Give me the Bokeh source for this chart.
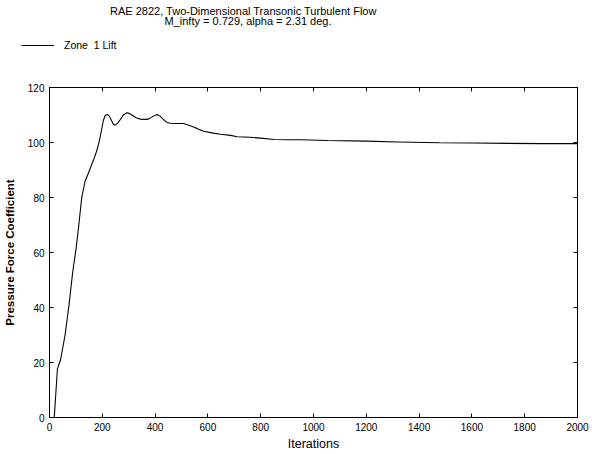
from bokeh.plotting import figure
from bokeh.models import LinearAxis, Legend, LegendItem, FixedTicker, Label
from bokeh.embed import file_html
from bokeh.resources import INLINE

# ---- data ----
iterations = [18, 30, 42, 59, 74, 88, 100, 110, 122, 135, 148, 160, 170, 179, 186,
              192, 198, 204, 211, 219, 227, 236, 243, 249, 258, 268, 280, 293, 302,
              312, 328, 344, 360, 375, 392, 407, 420, 432, 445, 458, 480, 508, 530,
              546, 565, 584, 620, 648, 686, 711, 760, 800, 850, 900, 951, 1053, 1200,
              1319, 1477, 1600, 1863, 2000]
lift = [0, 17.7, 21, 30, 41, 53, 61, 69, 80, 86, 89, 92, 94.5, 97, 99.5,
        102, 105, 108, 109.8, 110.2, 109.5, 107.8, 106.5, 106.3, 107, 108.3, 110, 110.8, 110.6,
        110, 109, 108.5, 108.4, 108.5, 109.5, 110.2, 109.5, 108.3, 107.3, 107, 106.9, 106.9, 106.2,
        105.6, 104.8, 104.1, 103.4, 103, 102.6, 102.1, 101.9, 101.6, 101.1, 101, 101, 100.7, 100.5,
        100.2, 99.9, 99.8, 99.6, 99.6]
x_ticks = [0, 200, 400, 600, 800, 1000, 1200, 1400, 1600, 1800, 2000]
y_ticks = [0, 20, 40, 60, 80, 100, 120]

title_1 = "RAE 2822, Two-Dimensional Transonic Turbulent Flow"
title_2 = "M_infty = 0.729, alpha = 2.31 deg."
series_name = "Zone  1 Lift"
x_label = "Iterations"
y_label = "Pressure Force Coefficient"

FONT = "Liberation Sans"
W = 592
HEAD_H = 60
MAIN_H = 454 - HEAD_H

# ---------- header strip: titles and legend (own root, frame = whole strip) ----------
head = figure(width=W, height=HEAD_H, x_range=(0, W), y_range=(HEAD_H, 0),
              output_backend="svg", toolbar_location=None,
              x_axis_type=None, y_axis_type=None, min_border=0,
              outline_line_color=None, background_fill_color="white",
              border_fill_color="white")
head.grid.visible = False

head.add_layout(Label(x=243, y=10.7, text=title_1, text_align="center",
                      text_baseline="middle", text_font=FONT,
                      text_font_size="11px", text_color="black"))
head.add_layout(Label(x=247.5, y=20.2, text=title_2, text_align="center",
                      text_baseline="middle", text_font=FONT,
                      text_font_size="11px", text_color="black"))

# legend sample: same style as the data line (single point -> draws no segment here)
legend_line = head.line(x=iterations[:1], y=lift[:1], line_color="black", line_width=1.1)
legend = Legend(items=[LegendItem(label=series_name, renderers=[legend_line])],
                location=(21, 9), glyph_width=33, glyph_height=12,
                label_standoff=10, padding=0, margin=0, spacing=0,
                border_line_color=None, background_fill_alpha=0,
                label_text_font=FONT, label_text_font_size="10.5px",
                label_text_color="black", label_height=12)
head.add_layout(legend)

# ---------- main plot ----------
p = figure(width=W, height=MAIN_H, x_range=(0, 2000), y_range=(0, 120),
           output_backend="svg", toolbar_location=None,
           min_border_left=49, min_border_right=15, min_border_top=87 - HEAD_H,
           min_border_bottom=37,
           outline_line_color="black", outline_line_width=1,
           background_fill_color="white", border_fill_color="white")
p.grid.visible = False

r = p.line(iterations, lift, line_color="black", line_width=1.1)

def style_axis(ax, ticks, show_labels=True):
    ax.ticker = FixedTicker(ticks=ticks)
    ax.major_tick_in = 4
    ax.major_tick_out = 0
    ax.minor_tick_line_color = None
    ax.axis_line_color = "black"
    ax.major_tick_line_color = "black"
    if show_labels:
        ax.major_label_text_font = FONT
        ax.major_label_text_font_size = "10px"
        ax.major_label_text_color = "black"
    else:
        ax.major_label_text_color = None
        ax.major_label_text_font_size = "0px"
        ax.major_label_standoff = 0

xa = p.xaxis[0]
ya = p.yaxis[0]
style_axis(xa, x_ticks)
style_axis(ya, y_ticks)
xa.major_label_standoff = 5
ya.major_label_standoff = 5
xa.axis_label = x_label
xa.axis_label_text_font = FONT
xa.axis_label_text_font_size = "12.5px"
xa.axis_label_text_font_style = "normal"
xa.axis_label_text_color = "black"
xa.axis_label_standoff = 3
ya.axis_label = y_label
ya.axis_label_text_font = FONT
ya.axis_label_text_font_size = "11.5px"
ya.axis_label_text_font_style = "bold"
ya.axis_label_text_color = "black"
ya.axis_label_standoff = 9

top_ax = LinearAxis()
style_axis(top_ax, x_ticks, show_labels=False)
p.add_layout(top_ax, "above")
right_ax = LinearAxis()
style_axis(right_ax, y_ticks, show_labels=False)
p.add_layout(right_ax, "right")

open("out.html", "w").write(file_html([head, p], INLINE))
